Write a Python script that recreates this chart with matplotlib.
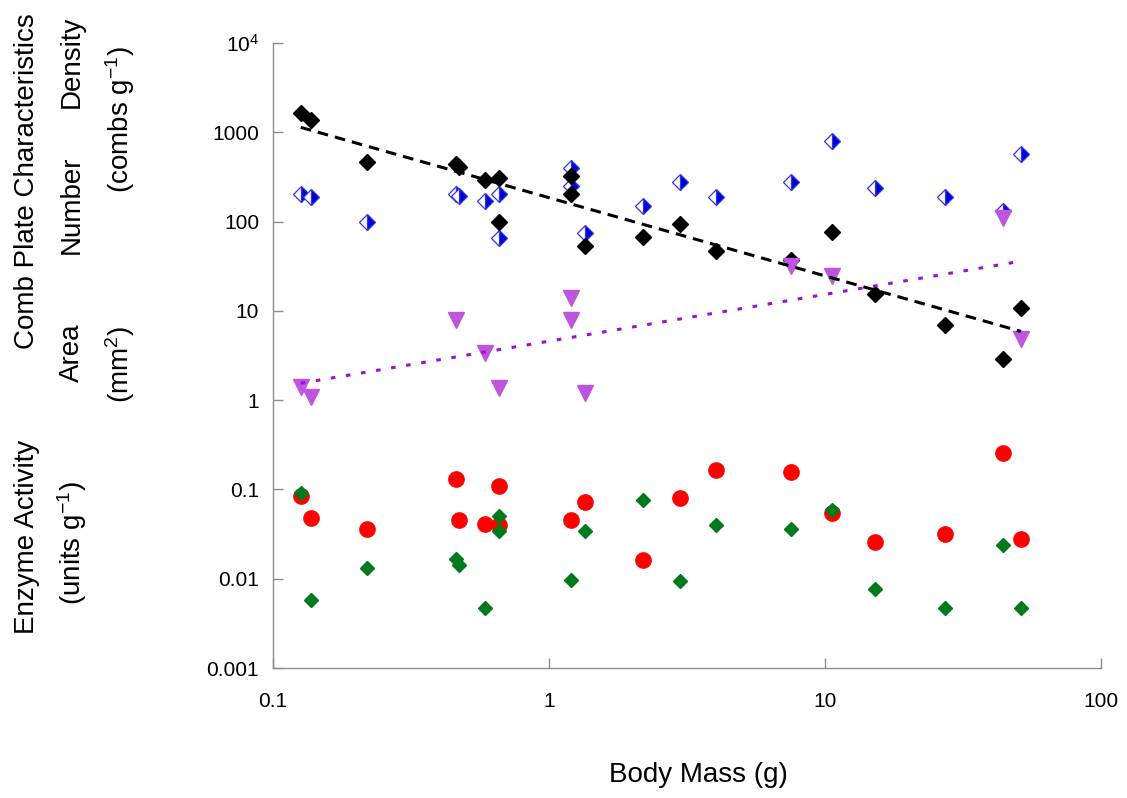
import numpy as np
import matplotlib
matplotlib.use("Agg")
import matplotlib.pyplot as plt

plt.rcParams['font.family'] = ['Liberation Sans', 'DejaVu Sans']

# comb plate density (combs g-1)
density_mass = [0.126, 0.137, 0.219, 0.460, 0.472, 0.586, 0.659, 0.659, 1.20, 1.20,
                1.35, 2.19, 2.98, 4.03, 7.53, 10.6, 15.2, 27.2, 44.2, 51.3]
density = [1640, 1370, 462, 438, 405, 290, 305, 98, 321, 202,
           52.7, 66.5, 93, 46.4, 37.6, 75.7, 15.6, 6.9, 2.9, 10.9]

# comb plate number
number_mass = [0.126, 0.137, 0.219, 0.460, 0.472, 0.586, 0.659, 0.659, 1.20, 1.20,
               1.35, 2.19, 2.98, 4.03, 7.53, 10.6, 15.2, 27.2, 44.2, 51.3]
number = [202, 187, 100, 202, 192, 169, 202, 64.7, 395, 248,
          73.8, 148, 275, 187, 275, 794, 236, 187, 130, 568]

# comb plate area (mm2)
area_mass = [0.126, 0.137, 0.460, 0.586, 0.659, 1.20, 1.20, 1.35, 7.53, 10.6, 44.2, 51.3]
area = [1.41, 1.09, 7.98, 3.40, 1.38, 14.1, 7.8, 1.21, 32.2, 24.3, 111, 4.9]

# enzyme activity (units g-1)
enz_mass = [0.126, 0.137, 0.219, 0.460, 0.472, 0.586, 0.659, 0.659, 1.20, 1.35,
            2.19, 2.98, 4.03, 7.53, 10.6, 15.2, 27.2, 44.2, 51.3]
enz_red = [0.0846, 0.0479, 0.036, 0.131, 0.0455, 0.041, 0.109, 0.040, 0.0455, 0.0724,
           0.0162, 0.0803, 0.166, 0.157, 0.0544, 0.0258, 0.0317, 0.257, 0.0279]
enz_green = [0.0914, 0.00575, 0.01315, 0.0166, 0.0142, 0.00468, 0.0505, 0.0342, 0.00964, 0.0342,
             0.0762, 0.0094, 0.040, 0.036, 0.0589, 0.00764, 0.00468, 0.0238, 0.00468]

xticks = [0.1, 1, 10, 100]
xticklabels = ["0.1", "1", "10", "100"]
yticks = [0.001, 0.01, 0.1, 1, 10, 100, 1000, 10000]
yticklabels = ["0.001", "0.01", "0.1", "1", "10", "100", "1000", r"$\mathregular{10^4}$"]

fig = plt.figure(figsize=(11.27, 7.98), dpi=100)
ax = fig.add_axes([273/1127, 1 - 668/798, 828/1127, 625/798])

ax.plot(number_mass, number, linestyle="none", marker="D", markersize=8.6,
        fillstyle="right", markerfacecolor="#0000cc", markerfacecoloralt="white",
        markeredgecolor="#3535e6", markeredgewidth=0.9, zorder=3)
ax.plot(density_mass, density, linestyle="none", marker="D", markersize=7.8,
        color="black", zorder=4)
ax.plot(area_mass, area, linestyle="none", marker="v", markersize=11.5,
        color="#bf55dd", zorder=5)
ax.plot(enz_mass, enz_red, linestyle="none", marker="o", markersize=11,
        color="#ff0000", zorder=3)
ax.plot(enz_mass, enz_green, linestyle="none", marker="D", markersize=7,
        color="#007a1c", zorder=4)

# power trend lines (fit in log-log)
def power_fit(xs, ys):
    k, b = np.polyfit(np.log10(xs), np.log10(ys), 1)
    xx = np.logspace(np.log10(min(xs)), np.log10(max(xs)), 50)
    return xx, 10 ** (k * np.log10(xx) + b)

fx, fy = power_fit(density_mass, density)
ax.plot(fx, fy, color="black", linewidth=2.2, linestyle=(0, (3.5, 2.3)), zorder=6)
fx, fy = power_fit(area_mass, area)
ax.plot(fx, fy, color="#9a10d8", linewidth=2.2, linestyle=(0, (1.5, 3.5)), zorder=6)

ax.set_xscale("log")
ax.set_yscale("log")
ax.set_xlim(0.1, 100)
ax.set_ylim(0.001, 10000)
ax.set_xticks(xticks)
ax.set_xticklabels(xticklabels)
ax.set_yticks(yticks)
ax.set_yticklabels(yticklabels)
ax.minorticks_off()

for s in ["top", "right"]:
    ax.spines[s].set_visible(False)
for s in ["left", "bottom"]:
    ax.spines[s].set_color("#8c8c8c")
    ax.spines[s].set_linewidth(1.0)

ax.tick_params(axis="both", direction="in", length=7, width=1.0, color="#8c8c8c",
               labelsize=15)
ax.tick_params(axis="x", pad=17)
ax.tick_params(axis="y", pad=10)

fig.text(698/1127, 1 - 775/798, "Body Mass (g)", fontsize=20, ha="center", va="center")

lab = dict(fontsize=20, rotation=90, ha="center", va="center")
fig.text(27/1127, 1 - 181/798, "Comb Plate Characteristics", **lab)
fig.text(27/1127, 1 - 537/798, "Enzyme Activity", **lab)
fig.text(72/1127, 1 - 62/798, "Density", **lab)
fig.text(72/1127, 1 - 205/798, "Number", **lab)
fig.text(72/1127, 1 - 353/798, "Area", **lab)
fig.text(72/1127, 1 - 543/798, r"(units g$\mathregular{^{-1}}$)", **lab)
fig.text(120/1127, 1 - 120/798, r"(combs g$\mathregular{^{-1}}$)", **lab)
fig.text(120/1127, 1 - 365/798, r"(mm$\mathregular{^{2}}$)", **lab)

fig.savefig("out.png", dpi=100)
